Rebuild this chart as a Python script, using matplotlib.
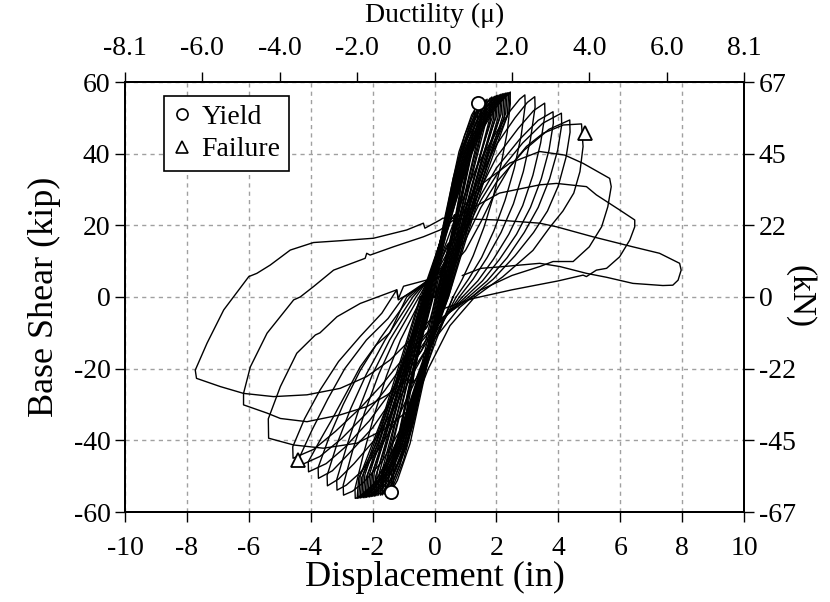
import matplotlib
matplotlib.use('Agg')
import matplotlib.pyplot as plt
from matplotlib.lines import Line2D

plt.rcParams['font.family'] = ['Liberation Serif', 'DejaVu Serif']
plt.rcParams['axes.unicode_minus'] = False

# ---------------- data (displacement in, base shear kip) ----------------
# near-elastic cycles (dense band)
b01 = [(0,0),(0.075,3.2),(0.15,6),(0.21,7.5),(0.25,8),(0.23,7),(0.15,4),(0.03,0),(-0.06,-3.6),(-0.16,-6.8),(-0.25,-8.5),(-0.3,-9),(-0.28,-7.9),(-0.18,-4.5),(-0.04,0)]
b02 = [(-0.04,0),(0.11,6),(0.25,11.2),(0.38,14.1),(0.45,15),(0.42,13.2),(0.27,7.5),(0.05,0),(-0.12,-6.4),(-0.28,-12),(-0.42,-15),(-0.5,-16),(-0.47,-14),(-0.3,-8),(-0.06,0)]
b03 = [(-0.06,0),(0.16,9.2),(0.36,17.2),(0.54,21.6),(0.65,23),(0.61,20.2),(0.39,11.5),(0.08,0),(-0.16,-9.6),(-0.39,-18),(-0.58,-22.6),(-0.7,-24),(-0.66,-21),(-0.42,-12),(-0.08,0)]
b04 = [(-0.08,0),(0.2,12.4),(0.47,23.2),(0.71,29.1),(0.85,31),(0.8,27.3),(0.52,15.5),(0.1,0),(-0.2,-12.8),(-0.5,-24),(-0.75,-30),(-0.9,-32),(-0.85,-28),(-0.55,-16),(-0.11,0)]
b05 = [(-0.11,0),(0.25,15.6),(0.58,29.2),(0.88,36.7),(1.05,39),(1.0,34.3),(0.64,19.5),(0.13,0),(-0.24,-16),(-0.61,-30),(-0.92,-37.6),(-1.1,-40),(-1.05,-35.2),(-0.67,-20),(-0.14,0)]
b06 = [(-0.14,0),(0.29,18.8),(0.69,35.2),(1.05,44.2),(1.25,47),(1.2,41.4),(0.76,23.5),(0.15,0),(-0.28,-19.2),(-0.71,-36),(-1.08,-45.1),(-1.28,-48),(-1.23,-42.2),(-0.78,-24),(-0.16,0)]
b07 = [(-0.16,0),(0.32,21.6),(0.79,40.5),(1.2,50.8),(1.42,54),(1.37,47.5),(0.86,27),(0.17,0),(-0.31,-21.8),(-0.79,-40.9),(-1.2,-51.2),(-1.42,-54.5),(-1.37,-48),(-0.87,-27.3),(-0.17,0)]
b08 = [(-0.17,0),(0.35,22),(0.86,41),(1.31,51.2),(1.55,54.5),(1.5,48),(0.94,27.3),(0.19,0),(-0.35,-22),(-0.89,-41.3),(-1.35,-51.7),(-1.6,-55),(-1.55,-48.4),(-0.97,-27.5),(-0.19,0)]
b09 = [(-0.19,0),(0.37,22),(0.94,41.4),(1.43,51.9),(1.7,55.2),(1.65,48.6),(1.03,27.6),(0.2,0),(-0.38,-22),(-0.97,-41.5),(-1.47,-52),(-1.75,-55.3),(-1.7,-48.7),(-1.06,-27.7),(-0.21,0)]
b10 = [(-0.21,0),(0.4,22.3),(1.02,41.9),(1.56,52.5),(1.85,55.8),(1.8,49.1),(1.12,27.9),(0.22,0),(-0.42,-22.2),(-1.05,-41.6),(-1.6,-52.2),(-1.9,-55.5),(-1.85,-48.8),(-1.15,-27.8),(-0.23,0)]
b11 = [(-0.23,0),(0.43,22.5),(1.1,42.2),(1.68,52.8),(2.0,56.2),(1.95,49.5),(1.21,28.1),(0.24,0),(-0.45,-22.3),(-1.13,-41.8),(-1.72,-52.4),(-2.05,-55.7),(-2.0,-49),(-1.24,-27.9),(-0.25,0)]
b12 = [(-0.25,0),(0.46,22.6),(1.18,42.5),(1.81,53.2),(2.15,56.6),(2.1,49.8),(1.3,28.3),(0.26,0),(-0.48,-22.4),(-1.21,-41.9),(-1.85,-52.5),(-2.2,-55.9),(-2.15,-49.2),(-1.33,-28),(-0.27,0)]
b13 = [(-0.27,0),(0.5,22.8),(1.26,42.7),(1.93,53.5),(2.3,56.9),(2.25,50),(1.39,28.5),(0.28,0),(-0.51,-22.4),(-1.3,-42),(-1.97,-52.6),(-2.35,-56),(-2.3,-49.3),(-1.42,-28),(-0.29,0)]
# repeated cycles at the same amplitudes
r01 = [(-0.22,0),(0.3,20),(0.85,40),(1.35,51),(1.62,54.8),(1.58,48),(1.08,30),(0.3,0),(-0.3,-20),(-0.88,-40),(-1.4,-51.5),(-1.68,-55.2),(-1.63,-48.5),(-1.12,-30),(-0.3,0)]
r02 = [(-0.3,0),(0.32,20),(0.95,40.5),(1.5,52),(1.8,55.5),(1.76,49),(1.2,30.5),(0.33,0),(-0.33,-20),(-0.97,-40.5),(-1.55,-52),(-1.83,-55.4),(-1.78,-49),(-1.22,-30.5),(-0.33,0)]
r03 = [(-0.33,0),(0.35,20.5),(1.03,41),(1.62,52.5),(1.95,56),(1.9,49.5),(1.3,31),(0.35,0),(-0.36,-20.5),(-1.06,-41),(-1.67,-52.3),(-2.0,-55.6),(-1.95,-49.2),(-1.33,-31),(-0.36,0)]
r04 = [(-0.36,0),(0.38,21),(1.1,41.5),(1.75,53),(2.1,56.4),(2.05,50),(1.42,31.5),(0.38,0),(-0.39,-21),(-1.14,-41.5),(-1.8,-52.8),(-2.15,-55.8),(-2.1,-49.5),(-1.45,-31.5),(-0.39,0)]
r05 = [(-0.39,0),(0.42,21.5),(1.18,42),(1.88,53.5),(2.25,56.8),(2.2,50.3),(1.52,32),(0.42,0),(-0.43,-21.5),(-1.22,-42),(-1.93,-53),(-2.3,-56),(-2.25,-49.6),(-1.55,-32),(-0.43,0)]
r06 = [(-0.43,0),(0.45,22),(1.25,42.5),(2.0,54),(2.4,57),(2.35,50.5),(1.6,32.5),(0.45,0),(-0.46,-22),(-1.3,-42.5),(-2.05,-53.3),(-2.45,-56.1),(-2.4,-49.8),(-1.63,-32.5),(-0.46,0)]
r07 = [(-0.2,0),(0.25,17),(0.7,35),(1.1,47),(1.5,54.3),(1.47,49),(1.15,38),(0.75,22),(0.25,0),(-0.25,-17),(-0.72,-35),(-1.12,-47),(-1.5,-54.8),(-1.47,-49.5),(-1.15,-38),(-0.75,-22),(-0.2,0)]
r08 = [(-0.2,0),(0.28,17.5),(0.76,36),(1.2,48),(1.65,55),(1.62,49.5),(1.27,38.5),(0.83,22.5),(0.28,0),(-0.28,-17.5),(-0.79,-36),(-1.24,-48),(-1.7,-55.2),(-1.66,-49.5),(-1.3,-38.5),(-0.85,-22.5),(-0.22,0)]
r09 = [(-0.22,0),(0.3,18),(0.85,37),(1.35,49),(1.9,55.8),(1.86,50),(1.45,39),(0.95,23),(0.32,0),(-0.32,-18),(-0.88,-37),(-1.4,-49),(-1.95,-55.6),(-1.9,-50),(-1.48,-39),(-0.97,-23),(-0.25,0)]
r10 = [(-0.25,0),(0.33,18.5),(0.92,37.5),(1.45,49.5),(2.05,56.3),(2.0,50.5),(1.56,39.5),(1.03,23.5),(0.35,0),(-0.35,-18.5),(-0.95,-37.5),(-1.5,-49.5),(-2.1,-55.8),(-2.05,-50),(-1.6,-39.5),(-1.05,-23.5),(-0.28,0)]
r11 = [(-0.28,0),(0.36,19),(0.98,38),(1.55,50),(2.2,56.7),(2.15,51),(1.67,40),(1.1,24),(0.38,0),(-0.38,-19),(-1.02,-38),(-1.6,-50),(-2.25,-56),(-2.2,-50.2),(-1.7,-40),(-1.12,-24),(-0.3,0)]
r12 = [(-0.3,0),(0.4,19.5),(1.05,38.5),(1.65,50.5),(2.35,57),(2.3,51.2),(1.78,40.5),(1.18,24.5),(0.4,0),(-0.41,-19.5),(-1.08,-38.5),(-1.7,-50.5),(-2.4,-56.1),(-2.35,-50.3),(-1.8,-40.5),(-1.2,-24.5),(-0.33,0)]
r13 = [(-0.15,0),(0.22,16),(0.6,33),(0.97,45),(1.3,52),(1.27,47),(0.97,36),(0.62,20),(0.2,0),(-0.22,-16),(-0.62,-33),(-1.0,-45.5),(-1.35,-53),(-1.32,-47.5),(-1.0,-36.5),(-0.64,-20.5),(-0.16,0)]
r14 = [(-0.33,0),(0.45,20),(1.12,39),(1.75,51),(2.45,57.2),(2.4,51.4),(1.86,41),(1.25,25),(0.45,0),(-0.45,-20),(-1.15,-39),(-1.8,-51),(-2.5,-56.2),(-2.45,-50.5),(-1.88,-41),(-1.27,-25),(-0.35,0)]

# inelastic cycles (negative half first, then positive half)
c01 = [(0.6,0),(0.0,-12),(-0.5,-27),(-1.0,-40),(-1.5,-48.5),(-2.0,-53.5),(-2.3,-55.5),(-2.56,-56.2),
       (-2.57,-53.5),(-2.3,-44),(-1.95,-33),(-1.55,-22),(-1.1,-12),(-0.4,0),
       (0.2,12),(0.7,27),(1.2,40),(1.6,47.5),(2.0,53),(2.25,55.8),(2.44,56.9),
       (2.45,54),(2.35,46),(2.15,37),(1.9,28),(1.6,19.5),(1.25,11.5),(0.9,5),(0.6,0)]
c02 = [(0.6,0),(0.1,-11),(-0.5,-25),(-1.1,-37),(-1.7,-46),(-2.3,-51.8),(-2.65,-54.2),(-2.94,-55.3),
       (-2.95,-52.5),(-2.65,-43),(-2.25,-32),(-1.8,-21.5),(-1.3,-12),(-0.5,0),
       (0.2,11),(0.8,25),(1.4,37),(2.0,46),(2.45,52),(2.75,55.2),(2.92,56.4),
       (2.93,53.5),(2.8,45),(2.58,36),(2.28,27),(1.92,18.5),(1.52,11),(1.1,5),(0.7,0)]
c03 = [(0.7,0),(0.1,-10),(-0.6,-23),(-1.2,-34),(-1.8,-42.5),(-2.4,-49),(-2.85,-52.5),(-3.15,-53.9),
       (-3.16,-51),(-2.85,-42),(-2.45,-31.5),(-2.0,-21.5),(-1.45,-12),(-0.6,0),
       (0.2,10),(0.9,23),(1.5,34),(2.0,42.5),(2.6,50),(3.0,54.3),(3.24,55.9),
       (3.25,53),(3.1,44),(2.87,35),(2.55,26),(2.15,18),(1.7,11),(1.25,5),(0.8,0)]
c04 = [(0.8,0),(0.1,-9),(-0.7,-21.5),(-1.3,-31),(-1.9,-39.5),(-2.6,-46.5),(-3.1,-50.8),(-3.46,-52.7),
       (-3.47,-49.8),(-3.15,-41),(-2.7,-31),(-2.2,-21.5),(-1.6,-12),(-0.7,0),
       (0.2,9),(1.0,21.5),(1.5,30.5),(2.0,39),(2.7,47),(3.2,52),(3.56,54.1),
       (3.57,51),(3.43,43),(3.18,34),(2.85,25.5),(2.4,17.5),(1.9,10.5),(1.4,4.5),(0.9,0)]
c05 = [(0.9,0),(0.1,-8),(-0.8,-20),(-1.4,-29),(-2.0,-36.5),(-2.8,-44),(-3.3,-48.5),(-3.75,-50.6),
       (-3.76,-47.6),(-3.4,-39),(-2.95,-30),(-2.4,-20.5),(-1.75,-11.5),(-0.8,0),
       (0.2,8),(1.0,19.5),(1.5,28.5),(2.0,36),(2.75,44),(3.35,49.3),(3.83,51.7),
       (3.84,48.5),(3.7,41),(3.45,33),(3.1,25),(2.65,17.5),(2.1,10.5),(1.55,4.5),(1.0,0)]
c06 = [(1.0,0),(0.1,-7.5),(-0.8,-18.5),(-1.5,-27.5),(-2.1,-34.5),(-2.9,-42),(-3.5,-46.5),(-4.07,-48.8),
       (-4.08,-46),(-3.7,-40),(-3.27,-33.5),(-2.8,-26),(-2.4,-19.5),(-1.9,-13.5),(-1.44,-10),(-0.9,0),
       (0.2,7.5),(1.0,18),(1.5,27),(2.0,34),(2.85,43),(3.5,48.5),(4.1,51.3),
       (4.11,48),(3.98,41),(3.72,33),(3.35,25),(2.9,18),(2.35,11),(1.7,4.5),(1.1,0)]
c07 = [(1.1,0),(0.1,-7),(-0.9,-17.5),(-1.6,-26),(-2.2,-32.5),(-3.0,-39.5),(-3.7,-44.5),(-4.34,-47),
       (-4.35,-44.5),(-3.95,-37),(-3.45,-28.5),(-2.9,-20),(-2.2,-12),(-1.5,-6),(-1.0,0),
       (0.2,7),(1.0,16),(1.5,25),(2.0,32),(2.9,41),(3.7,46.8),(4.37,49.4),
       (4.38,46),(4.25,39),(4.0,31),(3.65,24),(3.2,18),(2.6,11.5),(1.9,5),(1.2,0)]
c08 = [(1.2,0),(0.2,-6),(-0.9,-16),(-1.7,-24.5),(-2.4,-31),(-3.2,-37.5),(-3.9,-42.5),(-4.57,-45),
       (-4.58,-41.8),(-4.2,-34),(-3.7,-26),(-3.1,-18),(-2.4,-11),(-1.7,-4.5),(-1.22,2),(-1.17,-0.5),(-1.0,3),
       (0.3,6),(1.0,13),(1.5,21),(2.0,29.9),(2.44,36.4),(2.97,42),(3.51,45.7),(4.16,48),(4.75,48.3),
       (4.8,42),(4.7,35),(4.5,29),(4.15,24),(3.73,19.5),(3.18,13),(2.2,5.6),(1.3,0)]
c09 = [(1.3,0),(0.5,-8),(-0.2,-20),(-0.68,-30.6),(-1.65,-37.1),(-2.51,-40.8),(-3.59,-42.2),(-4.55,-41.3),(-5.36,-39.4),(-5.37,-34),
       (-4.98,-25),(-4.45,-15.7),(-3.85,-10.6),(-3.7,-10),(-3.15,-5.5),(-2.4,-1.8),(-1.22,2),(-1.17,-0.8),(-0.7,1.5),(0.18,5.7),
       (0.5,15),(0.92,25),(1.57,31.8),(2.44,37.4),(3.4,40.6),(4.21,39.6),(4.8,37.3),(5.66,33.1),(5.71,30.8),
       (5.6,25.2),(5.4,19.6),(5.0,14),(4.48,9.9),(3.83,9.9),(3.4,8.5),(2.5,6),(1.5,2),(0.8,-3)]
c10 = [(0.8,-3),(-0.3,-15),(-0.9,-23.2),(-1.54,-27.4),(-2.19,-30.6),(-3.05,-32.9),(-4.12,-34.8),(-4.98,-33.9),(-5.41,-32.4),(-6.17,-30.1),(-6.17,-26.9),
       (-5.95,-19.5),(-5.41,-10.1),(-4.55,-0.8),(-4.34,0),(-3.91,2.9),(-3.26,7.5),(-2.24,10.8),(-2.19,12.2),(-2.08,11.7),(-1.33,14),(-0.36,16.8),(0.18,18.7),
       (0.92,23.4),(2.1,29),(3.4,31.3),(3.94,31.7),(4.91,30.8),(5.23,28.5),(5.98,24.3),(6.47,21.5),(6.47,19.6),
       (6.31,15.9),(5.98,11.2),(5.56,8),(5.23,7.5),(4.91,5.7),(4.8,6.1),(4.0,4.5),(2.5,2),(1.2,-0.5)]
c11 = [(1.2,-0.5),(0.18,-3.6),(-0.68,-11.1),(-1.44,-17.6),(-2.19,-22.2),(-3.05,-25.5),(-4.12,-27.3),(-5.2,-27.8),(-6.17,-26.9),(-6.92,-25),(-7.69,-22.7),(-7.73,-20.4),
       (-7.35,-12.9),(-6.81,-3.6),(-6.0,5.7),(-5.74,6.6),(-5.31,8.9),(-4.66,13.1),(-3.91,15.2),(-3.05,15.7),(-1.97,16.4),(-0.9,18.7),(-0.36,20.6),(-0.31,19.2),(0.18,21.5),
       (0.27,22),(2.0,21.5),(3.4,20.6),(3.94,19.6),(5.12,16.8),(6.41,14),(7.27,12.2),(7.92,9.4),(7.97,7.5),
       (7.87,4.7),(7.7,3.3),(7.38,3.2),(6.41,3.8),(5.56,5.5),(4.91,6.6),(4.05,8.5),(3.4,9.4),(2.1,8.4),(1.5,8),(0.9,6)]

yield_disp = [1.4, -1.4]
yield_force = [54.2, -54.5]
failure_disp = [4.87, -4.4]
failure_force = [45.8, -45.5]

x_ticks = [-10, -8, -6, -4, -2, 0, 2, 4, 6, 8, 10]
y_ticks = [-60, -40, -20, 0, 20, 40, 60]
top_ticks = [-10, -7.5, -5, -2.5, 0, 2.5, 5, 7.5, 10]
top_labels = ['-8.1', '-6.0', '-4.0', '-2.0', '0.0', '2.0', '4.0', '6.0', '8.1']
right_labels = ['-67', '-45', '-22', '0', '22', '45', '67']

cycles = [b01, b02, b03, b04, b05, b06, b07, b08, b09, b10, b11, b12, b13,
          r01, r02, r03, r04, r05, r06, r07, r08, r09, r10, r11, r12, r13, r14,
          c01, c02, c03, c04, c05, c06, c07, c08, c09, c10, c11]

# ---------------- figure ----------------
FS = 20
FL = 26
fig = plt.figure(figsize=(8.3, 6.02), dpi=100)
ax = fig.add_axes([125/830, 1-512/602, 619/830, 430/602])

for cyc in cycles:
    ax.plot([p[0] for p in cyc], [p[1] for p in cyc], color='black', lw=1.0, zorder=3)

ax.plot(yield_disp, yield_force, linestyle='none', marker='o', markersize=9.5,
        markerfacecolor='white', markeredgecolor='black', markeredgewidth=1.3, zorder=5)
ax.plot(failure_disp, failure_force, linestyle='none', marker='^', markersize=10.5,
        markerfacecolor='white', markeredgecolor='black', markeredgewidth=1.3, zorder=5)

ax.set_xlim(-10, 10)
ax.set_ylim(-60, 60)
ax.set_xticks(x_ticks)
ax.set_yticks(y_ticks)
ax.grid(True, linestyle=(0, (3, 3)), color='#a0a0a0', lw=1)
ax.set_axisbelow(True)
ax.tick_params(direction='out', length=7, width=1, labelsize=FS)
ax.tick_params(axis='x', pad=10)
for s in ax.spines.values():
    s.set_linewidth(1.3)
ax.set_xlabel('Displacement (in)', fontsize=FL, labelpad=0)
ax.set_ylabel('Base Shear (kip)', fontsize=FL, labelpad=9)

axt = ax.twiny()
axt.set_xlim(-10, 10)
axt.set_xticks(top_ticks)
axt.set_xticklabels(top_labels)
axt.tick_params(direction='out', length=7, width=1, labelsize=FS, pad=8)
axt.set_xlabel('Ductility (\u03bc)', fontsize=FS, labelpad=10)

axr = ax.twinx()
axr.set_ylim(-60, 60)
axr.set_yticks(y_ticks)
axr.set_yticklabels(right_labels)
axr.tick_params(direction='out', length=7, width=1, labelsize=FS)
axr.set_ylabel('(kN)', fontsize=24, rotation=270, labelpad=14)
for a in (axt, axr):
    for s in a.spines.values():
        s.set_linewidth(1.3)

handles = [Line2D([], [], linestyle='none', marker='o', markersize=8, markerfacecolor='white',
                  markeredgecolor='black', markeredgewidth=1.2, label='Yield'),
           Line2D([], [], linestyle='none', marker='^', markersize=8.5, markerfacecolor='white',
                  markeredgecolor='black', markeredgewidth=1.2, label='Failure')]
leg = ax.legend(handles=handles, loc='upper left', bbox_to_anchor=(0.063, 0.967),
                borderaxespad=0, fontsize=FS, frameon=True, fancybox=False,
                edgecolor='black', framealpha=1, handlelength=0.7, handletextpad=0.35,
                borderpad=0.3, labelspacing=0.25)
leg.get_frame().set_linewidth(1.2)
leg.set_zorder(10)

fig.savefig('out.png', dpi=100)
